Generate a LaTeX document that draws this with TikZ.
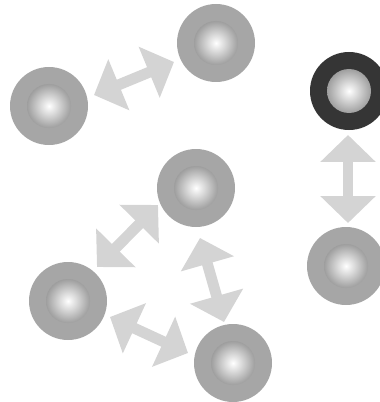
\documentclass[tikz,border=0pt]{standalone}
\usepackage{tikz}
\usetikzlibrary{calc, arrows.meta}
\definecolor{ringgray}{HTML}{A6A6A6}
\definecolor{ringdark}{HTML}{353535}
\definecolor{ballrim}{HTML}{7C7C7C}
\definecolor{flowgray}{HTML}{D4D4D4}
\pgfdeclareradialshading{ballshade}{\pgfpoint{0bp}{0bp}}{color(0bp)=(white); color(34bp)=(ballrim); color(50bp)=(ballrim)}

\begin{document}
\begin{tikzpicture}[x=0.02cm, y=-0.02cm,
    ring/.style={fill=ringgray},
    darkring/.style={fill=ringdark},
    ball/.style={shading=ballshade},
    flow/.style={draw=flowgray, line width=6.2pt,
        {Triangle[width=30.6pt,length=15.3pt]}-{Triangle[width=30.6pt,length=15.3pt]}}]
            \useasboundingbox (0,0) rectangle (379,402);
            % particles
            \coordinate (A) at (49,106);
            \coordinate (B) at (216,43);
            \coordinate (C) at (349,91);
            \coordinate (D) at (346,266);
            \coordinate (E) at (196,188);
            \coordinate (F) at (68,301);
            \coordinate (G) at (233,363);
            % arrow ends
            \coordinate (AB) at (94,95);
            \coordinate (BA) at (174,62);
            \coordinate (CD) at (348,135);
            \coordinate (DC) at (348,223);
            \coordinate (FE) at (97,267);
            \coordinate (EF) at (158,205);
            \coordinate (EG) at (200,238);
            \coordinate (GE) at (224,322);
            \coordinate (FG) at (110,317);
            \coordinate (GF) at (188,353);

            \fill[ring] (A) circle (39);
            \fill[ring] (B) circle (39);
            \fill[darkring] (C) circle (39);
            \fill[ring] (D) circle (39);
            \fill[ring] (E) circle (39);
            \fill[ring] (F) circle (39);
            \fill[ring] (G) circle (39);
            \shade[ball] (A) circle (22);
            \shade[ball] (B) circle (22);
            \shade[ball] (C) circle (22);
            \shade[ball] (D) circle (22);
            \shade[ball] (E) circle (22);
            \shade[ball] (F) circle (22);
            \shade[ball] (G) circle (22);

            \draw[flow] (AB) -- (BA);
            \draw[flow] (CD) -- (DC);
            \draw[flow] (FE) -- (EF);
            \draw[flow] (EG) -- (GE);
            \draw[flow] (FG) -- (GF);
        \end{tikzpicture}
\end{document}
